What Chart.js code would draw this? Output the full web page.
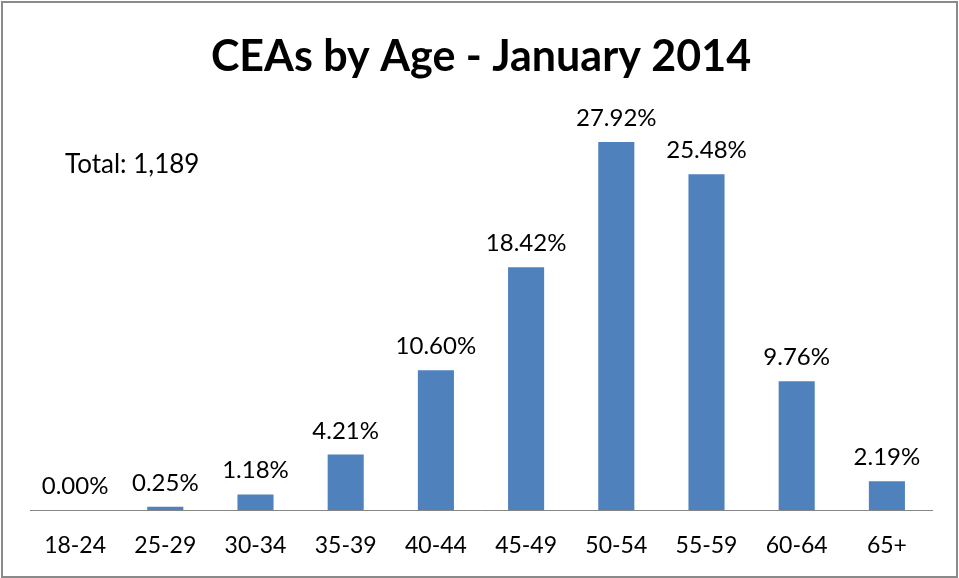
<!DOCTYPE html>
<html>
<head>
<meta charset="utf-8">
<script src="https://cdn.jsdelivr.net/npm/chart.js@4/dist/chart.umd.min.js"></script>
<style>
  html, body { margin: 0; padding: 0; background: #fff; }
  #wrap { width: 959px; height: 578px; position: relative; }
</style>
</head>
<body>
<div id="wrap"><canvas id="chart" width="959" height="578"></canvas></div>
<script>
const ageGroups = ['18-24', '25-29', '30-34', '35-39', '40-44', '45-49', '50-54', '55-59', '60-64', '65+'];
const percentages = [0.00, 0.25, 1.18, 4.21, 10.60, 18.42, 27.92, 25.48, 9.76, 2.19];
const chartTitle = 'CEAs by Age - January 2014';
const totalNote = 'Total: 1,189';

const FONT = 'Lato, "Open Sans", sans-serif';

// value labels above each bar, plus the total note and outer frame
const extras = {
    id: 'extras',
    afterDatasetsDraw(chart) {
        const c = chart.ctx;
        c.save();
        c.fillStyle = '#000';
        c.font = '24px ' + FONT;
        c.textAlign = 'center';
        c.textBaseline = 'alphabetic';
        chart.getDatasetMeta(0).data.forEach((bar, i) => {
            c.fillText(percentages[i].toFixed(2) + '%', bar.x, bar.y - 16);
        });
        c.font = '26px ' + FONT;
        c.textAlign = 'left';
        c.textBaseline = 'middle';
        c.fillText(totalNote, 65, 165);
        c.restore();
    },
    afterDraw(chart) {
        const c = chart.ctx;
        c.save();
        c.strokeStyle = '#8a8a8a';
        c.lineWidth = 2;
        c.strokeRect(2, 2, chart.width - 4, chart.height - 3);
        c.restore();
    }
};

new Chart(document.getElementById('chart').getContext('2d'), {
    type: 'bar',
    data: {
        labels: ageGroups,
        datasets: [{
            data: percentages,
            backgroundColor: '#4F81BD',
            barPercentage: 0.4,
            categoryPercentage: 1.0
        }]
    },
    options: {
        responsive: false,
        animation: false,
        layout: { padding: { left: 30, right: 27, top: 0, bottom: 0 } },
        plugins: {
            legend: { display: false },
            tooltip: { enabled: false },
            title: {
                display: true,
                text: chartTitle,
                color: '#000',
                font: { family: FONT, size: 43, weight: 'bold', lineHeight: 1.2 },
                padding: { top: 31, bottom: 32 }
            }
        },
        scales: {
            y: { display: false, min: 0, max: 30 },
            x: {
                grid: { display: false, drawTicks: false },
                border: { display: true, color: '#868686', width: 1 },
                ticks: { color: '#000', font: { family: FONT, size: 23 }, padding: 22, maxRotation: 0 },
                afterFit(scale) { scale.height = 68; }
            }
        }
    },
    plugins: [extras]
});
</script>
</body>
</html>
